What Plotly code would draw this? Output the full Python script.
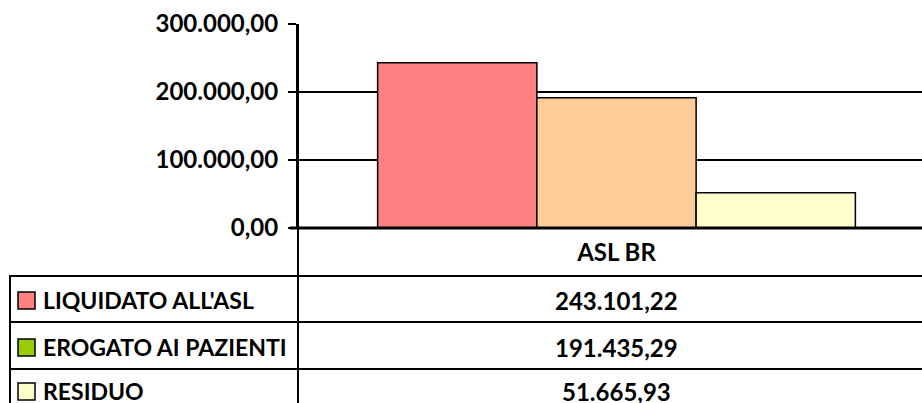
import plotly.graph_objects as go

categories = ["ASL BR"]
series_names = ["LIQUIDATO ALL'ASL", "EROGATO AI PAZIENTI", "RESIDUO"]
series_values = [[243101.22], [191435.29], [51665.93]]
series_labels = ["243.101,22", "191.435,29", "51.665,93"]
bar_colors = ["#FF8080", "#FFCC99", "#FFFFCC"]
key_colors = ["#FF8080", "#99CC00", "#FFFFCC"]
y_tickvals = [0, 100000, 200000, 300000]
y_ticktext = ["0,00", "100.000,00", "200.000,00", "300.000,00"]

W, H = 922, 403
# plot area in page pixels: x 298..922, y 24..228
L, R, T = 298, 0, 24
B = H - 228
PW, PH = W - L - R, H - T - B

def px(x):
    return (x - L) / PW

def py(y):
    return (H - B - y) / PH

FONT = "Lato"
FS = 24
fig = go.Figure()
for name, vals, col in zip(series_names, series_values, bar_colors):
    fig.add_trace(go.Bar(x=categories, y=vals, name=name,
                         marker=dict(color=col, line=dict(color="black", width=1.5)),
                         showlegend=False))

shapes = []
for yy in [276, 322, 369]:
    shapes.append(dict(type="line", xref="paper", yref="paper", x0=px(10), x1=px(940), y0=py(yy), y1=py(yy),
                       line=dict(color="black", width=2)))
shapes.append(dict(type="line", xref="paper", yref="paper", x0=px(10), x1=px(10), y0=py(275), y1=py(420),
                   line=dict(color="black", width=2)))
shapes.append(dict(type="line", xref="paper", yref="paper", x0=0, x1=0, y0=py(24), y1=py(420),
                   line=dict(color="black", width=2)))
shapes.append(dict(type="line", xref="paper", yref="paper", x0=px(290), x1=px(940), y0=0, y1=0,
                   line=dict(color="black", width=3)))

row_y = [300, 347, 391]
annotations = []
for i, (name, lab, kc) in enumerate(zip(series_names, series_labels, key_colors)):
    cy = row_y[i]
    shapes.append(dict(type="rect", xref="paper", yref="paper", x0=px(18), x1=px(35), y0=py(cy + 9), y1=py(cy - 8),
                       fillcolor=kc, line=dict(color="black", width=1.5)))
    annotations.append(dict(text=name, xref="paper", yref="paper", x=px(41), y=py(cy), xanchor="left",
                            yanchor="middle", showarrow=False,
                            font=dict(family=FONT, size=23, color="black", weight="bold")))
    annotations.append(dict(text=lab, xref="x", yref="paper", x=categories[0], y=py(cy), xanchor="center",
                            yanchor="middle", showarrow=False,
                            font=dict(family=FONT, size=FS, color="black", weight="bold")))

fig.update_layout(
    width=W, height=H, margin=dict(l=L, r=R, t=T, b=B, autoexpand=False),
    paper_bgcolor="white", plot_bgcolor="white",
    barmode="group", bargap=0.25, bargroupgap=0,
    shapes=shapes, annotations=annotations,
    xaxis=dict(type="category", range=[-0.5, (922 - 616.5) / 637.0], showline=False, showgrid=False, ticks="",
               tickfont=dict(family=FONT, size=FS, color="black", weight="bold"), ticklabelstandoff=8,
               fixedrange=True),
    yaxis=dict(range=[0, 300000], tickvals=y_tickvals, ticktext=y_ticktext, showgrid=True, gridcolor="black",
               gridwidth=2, ticks="outside", ticklen=8, tickwidth=2, tickcolor="black", showline=True,
               linecolor="black", linewidth=2, zeroline=False, ticklabelstandoff=5,
               tickfont=dict(family=FONT, size=FS, color="black", weight="bold")),
    font=dict(family=FONT),
)
fig.write_html("out.html", config={"displayModeBar": False},
               post_script="document.body.style.margin='0';document.body.style.overflow='hidden';")
